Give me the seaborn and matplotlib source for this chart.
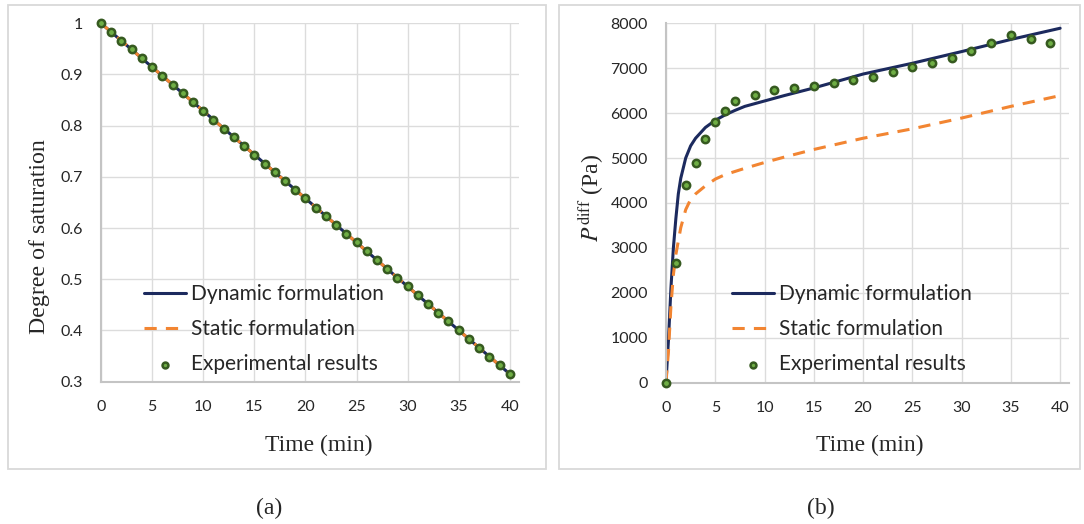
import matplotlib
matplotlib.use("Agg")
import matplotlib.pyplot as plt
import seaborn as sns
from matplotlib.patches import Rectangle
from matplotlib.ticker import FixedLocator, FuncFormatter

# ---------------- data ----------------
# (a) degree of saturation
sat_time = [0, 1, 2, 3, 4, 5, 6, 7, 8, 9, 10, 11, 12, 13, 14, 15, 16, 17, 18, 19, 20,
            21, 22, 23, 24, 25, 26, 27, 28, 29, 30, 31, 32, 33, 34, 35, 36, 37, 38, 39, 40]
sat_exp = [1.000, 0.983, 0.966, 0.949, 0.932, 0.914, 0.897, 0.880, 0.863, 0.846, 0.829,
           0.812, 0.794, 0.777, 0.760, 0.743, 0.726, 0.709, 0.692, 0.675, 0.658,
           0.640, 0.623, 0.606, 0.589, 0.572, 0.555, 0.538, 0.520, 0.503, 0.486,
           0.469, 0.452, 0.435, 0.418, 0.401, 0.384, 0.366, 0.349, 0.332, 0.315]
sat_model_time = [0, 10, 20, 30, 40]
sat_dynamic = [1.000, 0.829, 0.658, 0.486, 0.315]
sat_static = [1.000, 0.829, 0.658, 0.486, 0.315]

# (b) differential pressure
p_exp_time = [0, 1, 2, 3, 4, 5, 6, 7, 9, 11, 13, 15, 17, 19, 21, 23, 25, 27, 29, 31, 33, 35, 37, 39]
p_exp = [0, 2655, 4390, 4880, 5425, 5810, 6045, 6275, 6395, 6505, 6560, 6605, 6665, 6735,
         6810, 6920, 7020, 7125, 7225, 7385, 7560, 7745, 7645, 7570]
p_dyn_time = [0, 0.25, 0.5, 0.75, 1, 1.25, 1.5, 2, 2.5, 3, 4, 5, 6, 7, 8, 10, 12, 15, 20, 25, 30, 35, 40]
p_dyn = [0, 950, 2100, 3000, 3650, 4200, 4550, 5000, 5270, 5440, 5680, 5840, 5960, 6060,
         6150, 6270, 6390, 6560, 6870, 7110, 7370, 7640, 7890]
p_sta_time = [0, 0.25, 0.5, 0.75, 1, 1.5, 2, 2.5, 3, 4, 5, 6, 7, 8, 10, 12, 15, 20, 25, 30, 35, 40]
p_sta = [0, 700, 1700, 2400, 2850, 3450, 3850, 4080, 4200, 4380, 4530, 4630, 4700, 4770,
         4900, 5020, 5190, 5440, 5650, 5890, 6150, 6390]

x_ticks = [0, 5, 10, 15, 20, 25, 30, 35, 40]
sat_ticks = [0.3, 0.4, 0.5, 0.6, 0.7, 0.8, 0.9, 1.0]
p_ticks = [0, 1000, 2000, 3000, 4000, 5000, 6000, 7000, 8000]

lab_dyn = "Dynamic formulation"
lab_sta = "Static formulation"
lab_exp = "Experimental results"

# ---------------- style ----------------
sns.set_theme(style="white")
plt.rcParams["font.family"] = ["Lato", "DejaVu Sans"]
plt.rcParams["mathtext.fontset"] = "stix"

NAVY = "#1c2a5e"
ORANGE = "#f28532"
GFACE = "#6fae45"
GEDGE = "#365a20"
GRID = "#dcdcdc"
SPINE = "#c4c4c4"
TEXT = "#262626"
SERIF = ["Liberation Serif", "DejaVu Serif"]

W, H = 1084, 524
fig = plt.figure(figsize=(W / 100, H / 100), dpi=100)

def fx(px):
    return px / W

def fy(py):
    return 1 - py / H

# panel boxes
for (x0, x1) in [(8, 546), (559, 1080)]:
    fig.patches.append(Rectangle((fx(x0), fy(469)), fx(x1) - fx(x0), fy(5) - fy(469),
                                 transform=fig.transFigure, fill=False,
                                 ec="#d9d9d9", lw=1.3, zorder=0))

axA = fig.add_axes([fx(101), fy(381.7), fx(519) - fx(101), fy(23.3) - fy(381.7)])
axB = fig.add_axes([fx(666), fy(382.5), fx(1069) - fx(666), fy(23.3) - fy(382.5)])


def style_axis(ax, yticks, ylim, fmt):
    ax.set_xlim(0, 40.9)
    ax.set_ylim(*ylim)
    ax.xaxis.set_major_locator(FixedLocator(x_ticks))
    ax.yaxis.set_major_locator(FixedLocator(yticks))
    ax.yaxis.set_major_formatter(FuncFormatter(fmt))
    ax.grid(True, color=GRID, lw=1.0)
    ax.set_axisbelow(True)
    for s in ["top", "right"]:
        ax.spines[s].set_visible(False)
    for s in ["left", "bottom"]:
        ax.spines[s].set_color(SPINE)
        ax.spines[s].set_linewidth(1.5)
    ax.tick_params(axis="both", length=0, labelsize=11.5, colors=TEXT)
    ax.tick_params(axis="y", pad=13)
    ax.tick_params(axis="x", pad=13)
    ax.set_xlabel("")
    ax.set_ylabel("")


# ---- panel (a)
sns.lineplot(x=sat_model_time, y=sat_dynamic, ax=axA, color=NAVY, lw=2.2, label=lab_dyn)
sns.lineplot(x=sat_model_time, y=sat_static, ax=axA, color=ORANGE, lw=2.2,
             linestyle=(0, (4, 3)), label=lab_sta)
sns.scatterplot(x=sat_time, y=sat_exp, ax=axA, color=GFACE, edgecolor=GEDGE,
                linewidth=1.8, s=28, label=lab_exp, clip_on=False, zorder=5)
style_axis(axA, sat_ticks, (0.3, 1.0), lambda v, p: f"{v:g}")

# ---- panel (b)
sns.lineplot(x=p_dyn_time, y=p_dyn, ax=axB, color=NAVY, lw=2.2, label=lab_dyn)
sns.lineplot(x=p_sta_time, y=p_sta, ax=axB, color=ORANGE, lw=2.2,
             linestyle=(0, (4, 3)), label=lab_sta)
sns.scatterplot(x=p_exp_time, y=p_exp, ax=axB, color=GFACE, edgecolor=GEDGE,
                linewidth=1.8, s=28, label=lab_exp, clip_on=False, zorder=5)
style_axis(axB, p_ticks, (0, 8000), lambda v, p: f"{int(v)}")

# legends
for ax, xpx in [(axA, 144), (axB, 732)]:
    handles, labels = ax.get_legend_handles_labels()
    ax.legend(handles, labels, loc="upper left",
              bbox_to_anchor=(fx(xpx), fy(284)), bbox_transform=fig.transFigure,
              frameon=False, fontsize=15, handlelength=2.0, handletextpad=0.25,
              labelspacing=0.72, borderpad=0, borderaxespad=0, markerscale=0.8,
              labelcolor=TEXT)

# axis titles and captions
fig.text(fx(40), fy(237), "Degree of saturation", rotation=90, ha="center", va="center",
         family=SERIF, fontsize=17.2, color=TEXT)
fig.text(fx(591), fy(198), r"$P^{\mathrm{diff}}$ (Pa)", rotation=90, ha="center", va="center",
         family=SERIF, fontsize=17, color=TEXT)
fig.text(fx(319), fy(445), "Time (min)", ha="center", va="center",
         family=SERIF, fontsize=17, color=TEXT)
fig.text(fx(870), fy(445), "Time (min)", ha="center", va="center",
         family=SERIF, fontsize=17, color=TEXT)
fig.text(fx(269), fy(508), "(a)", ha="center", va="center",
         family=SERIF, fontsize=17, color=TEXT)
fig.text(fx(821), fy(508), "(b)", ha="center", va="center",
         family=SERIF, fontsize=17, color=TEXT)

fig.savefig("out.png", dpi=100)
